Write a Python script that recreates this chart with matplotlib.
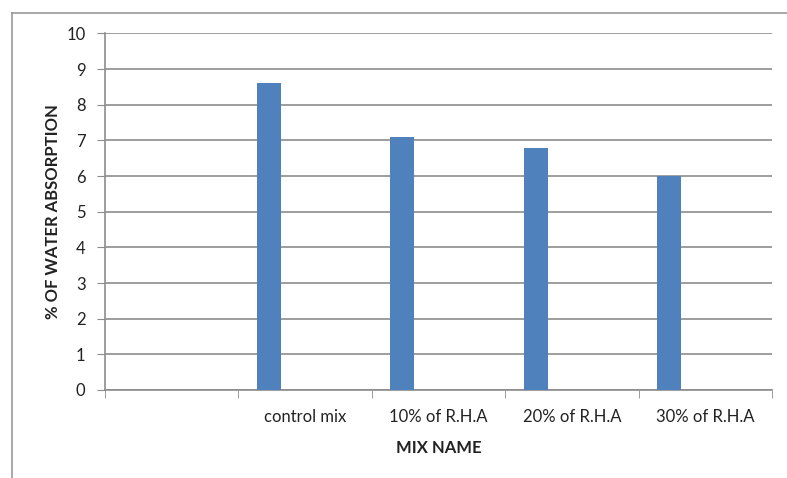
import matplotlib.pyplot as plt
from matplotlib.lines import Line2D

# data
categories = ["", "control mix", "10% of R.H.A", "20% of R.H.A", "30% of R.H.A"]
absorption = [None, 8.6, 7.1, 6.8, 6.0]
y_ticks = list(range(0, 11))

plt.rcParams['font.family'] = ['Lato', 'DejaVu Sans']

fig = plt.figure(figsize=(7.87, 4.78), dpi=100)
ax = fig.add_axes([105 / 787, 1 - 390 / 478, 667 / 787, 356.5 / 478])

# Excel-style clustered bar: the only series sits left of the category centre
xs = [i for i, v in enumerate(absorption) if v is not None]
vals = [v for v in absorption if v is not None]
ax.bar([x - 0.27 for x in xs], vals, width=0.18, color="#4F81BD", zorder=3)

ax.set_xlim(-0.5, len(categories) - 0.5)
ax.set_ylim(0, 10)
ax.set_yticks(y_ticks)
ax.yaxis.grid(True, color="#8c8c8c", linewidth=1.2)
ax.set_axisbelow(True)

ax.set_xticks(range(len(categories)))
ax.set_xticklabels(categories, fontsize=12, color="#222222")
ax.tick_params(axis="x", length=0, pad=14)
ax.set_xticks([i - 0.5 for i in range(len(categories) + 1)], minor=True)
ax.tick_params(axis="x", which="minor", length=6, color="#8c8c8c", direction="out")
ax.tick_params(axis="y", length=6, color="#8c8c8c", labelsize=12, pad=8, labelcolor="#222222")

for s in ["top", "right"]:
    ax.spines[s].set_visible(False)
for s in ["left", "bottom"]:
    ax.spines[s].set_color("#8c8c8c")
    ax.spines[s].set_linewidth(1.2)

ax.set_xlabel("MIX NAME", fontsize=12, fontweight="bold", color="#222222")
ax.set_ylabel("% OF WATER ABSORPTION", fontsize=12, fontweight="bold", color="#222222")
ax.xaxis.set_label_coords(0.5, -0.14)
ax.yaxis.set_label_coords(-0.066, 0.5)

# outer chart frame (left and top edges visible in the crop)
fig.add_artist(Line2D([12 / 787, 12 / 787], [0, 1 - 13 / 478], color="#999999", lw=1.2))
fig.add_artist(Line2D([12 / 787, 1], [1 - 13 / 478, 1 - 13 / 478], color="#999999", lw=1.2))

plt.savefig("out.png", dpi=100)
